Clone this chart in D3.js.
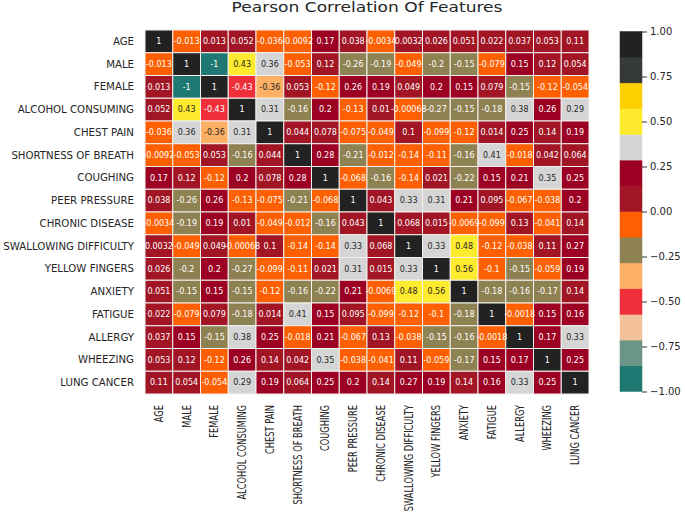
<!DOCTYPE html>
<html>
<head>
<meta charset="utf-8">
<script src="https://cdn.jsdelivr.net/npm/d3@7"></script>
<style>
  body { margin: 0; background: #fff; }
  text { font-family: "DejaVu Sans", sans-serif; fill: #262626; }
</style>
</head>
<body>
<div id="chart"></div>
<script>
// data
const features = ["AGE", "MALE", "FEMALE", "ALCOHOL CONSUMING", "CHEST PAIN",
  "SHORTNESS OF BREATH", "COUGHING", "PEER PRESSURE", "CHRONIC DISEASE",
  "SWALLOWING DIFFICULTY", "YELLOW FINGERS", "ANXIETY", "FATIGUE", "ALLERGY",
  "WHEEZING", "LUNG CANCER"];

const corr = [
  [1, -0.013, 0.013, 0.052, -0.036, -0.0092, 0.17, 0.038, -0.0034, 0.0032, 0.026, 0.051, 0.022, 0.037, 0.053, 0.11],
  [-0.013, 1, -1, 0.43, 0.36, -0.053, 0.12, -0.26, -0.19, -0.049, -0.2, -0.15, -0.079, 0.15, 0.12, 0.054],
  [0.013, -1, 1, -0.43, -0.36, 0.053, -0.12, 0.26, 0.19, 0.049, 0.2, 0.15, 0.079, -0.15, -0.12, -0.054],
  [0.052, 0.43, -0.43, 1, 0.31, -0.16, 0.2, -0.13, 0.01, -0.00068, -0.27, -0.15, -0.18, 0.38, 0.26, 0.29],
  [-0.036, 0.36, -0.36, 0.31, 1, 0.044, 0.078, -0.075, -0.049, 0.1, -0.099, -0.12, 0.014, 0.25, 0.14, 0.19],
  [-0.0092, -0.053, 0.053, -0.16, 0.044, 1, 0.28, -0.21, -0.012, -0.14, -0.11, -0.16, 0.41, -0.018, 0.042, 0.064],
  [0.17, 0.12, -0.12, 0.2, 0.078, 0.28, 1, -0.068, -0.16, -0.14, 0.021, -0.22, 0.15, 0.21, 0.35, 0.25],
  [0.038, -0.26, 0.26, -0.13, -0.075, -0.21, -0.068, 1, 0.043, 0.33, 0.31, 0.21, 0.095, -0.067, -0.038, 0.2],
  [-0.0034, -0.19, 0.19, 0.01, -0.049, -0.012, -0.16, 0.043, 1, 0.068, 0.015, -0.0069, -0.099, 0.13, -0.041, 0.14],
  [0.0032, -0.049, 0.049, -0.00068, 0.1, -0.14, -0.14, 0.33, 0.068, 1, 0.33, 0.48, -0.12, -0.038, 0.11, 0.27],
  [0.026, -0.2, 0.2, -0.27, -0.099, -0.11, 0.021, 0.31, 0.015, 0.33, 1, 0.56, -0.1, -0.15, -0.059, 0.19],
  [0.051, -0.15, 0.15, -0.15, -0.12, -0.16, -0.22, 0.21, -0.0069, 0.48, 0.56, 1, -0.18, -0.16, -0.17, 0.14],
  [0.022, -0.079, 0.079, -0.18, 0.014, 0.41, 0.15, 0.095, -0.099, -0.12, -0.1, -0.18, 1, -0.0018, 0.15, 0.16],
  [0.037, 0.15, -0.15, 0.38, 0.25, -0.018, 0.21, -0.067, 0.13, -0.038, -0.15, -0.16, -0.0018, 1, 0.17, 0.33],
  [0.053, 0.12, -0.12, 0.26, 0.14, 0.042, 0.35, -0.038, -0.041, 0.11, -0.059, -0.17, 0.15, 0.17, 1, 0.25],
  [0.11, 0.054, -0.054, 0.29, 0.19, 0.064, 0.25, 0.2, 0.14, 0.27, 0.19, 0.14, 0.16, 0.33, 0.25, 1]
];

// listed colormap, from -1 up to 1
const palette = ["#1f7872", "#6a9588", "#f4c29a", "#ef2f3a", "#feb164", "#8e8152", "#fe5f00",
  "#a11525", "#9c0022", "#d5d5d5", "#ffeb2d", "#ffd000", "#353a36", "#222222"];

const cbarTicks = [-1, -0.75, -0.5, -0.25, 0, 0.25, 0.5, 0.75, 1];

// setup
const width = 685, height = 515;
const svg = d3.select("#chart").append("svg")
  .attr("width", width)
  .attr("height", height);

const x = d3.scaleBand().domain(features).range([145, 589]);
const y = d3.scaleBand().domain(features).range([30, 394]);
const color = d3.scaleQuantize().domain([-1, 1]).range(palette);

function lum(c) {
  const r = d3.rgb(c);
  const f = v => { v /= 255; return v <= 0.03928 ? v / 12.92 : Math.pow((v + 0.055) / 1.055, 2.4); };
  return 0.2126 * f(r.r) + 0.7152 * f(r.g) + 0.0722 * f(r.b);
}

const cells = [];
corr.forEach((row, i) => row.forEach((v, j) => cells.push({ r: features[i], c: features[j], v: v })));

// like python's {:.2g}, plain hyphen
const fmt = v => d3.format(".2~g")(v).replace("−", "-");

// cells
svg.append("g").selectAll("rect")
  .data(cells)
  .enter().append("rect")
  .attr("x", d => x(d.c))
  .attr("y", d => y(d.r))
  .attr("width", x.bandwidth())
  .attr("height", y.bandwidth())
  .attr("fill", d => color(d.v))
  .attr("stroke", "#f4f2f0")
  .attr("stroke-width", 1);

svg.append("g").selectAll("text")
  .data(cells)
  .enter().append("text")
  .attr("x", d => x(d.c) + x.bandwidth() / 2)
  .attr("y", d => y(d.r) + y.bandwidth() / 2)
  .attr("dy", "0.35em")
  .attr("text-anchor", "middle")
  .style("font-size", "8px")
  .style("fill", d => lum(color(d.v)) > 0.408 ? "#262626" : "#ffffff")
  .text(d => fmt(d.v));

// y labels
svg.append("g").selectAll("text")
  .data(features)
  .enter().append("text")
  .attr("x", 134)
  .attr("y", d => y(d) + y.bandwidth() / 2)
  .attr("dy", "0.35em")
  .attr("text-anchor", "end")
  .style("font-size", "10.2px")
  .text(d => d);

// x labels (rotated, narrow)
svg.append("g").selectAll("text")
  .data(features)
  .enter().append("text")
  .attr("transform", d => `translate(${x(d) + x.bandwidth() / 2},405) rotate(-90) scale(0.72,1)`)
  .attr("dy", "0.35em")
  .attr("text-anchor", "end")
  .style("font-size", "11.5px")
  .text(d => d);

// title
svg.append("text")
  .attr("x", 367)
  .attr("y", 12)
  .attr("text-anchor", "middle")
  .attr("textLength", 271)
  .attr("lengthAdjust", "spacingAndGlyphs")
  .style("font-size", "14px")
  .text("Pearson Correlation Of Features");

// colorbar
const cy = d3.scaleLinear().domain([-1, 1]).range([391.5, 31.5]);
svg.append("g").selectAll("rect")
  .data(palette)
  .enter().append("rect")
  .attr("x", 620)
  .attr("width", 22)
  .attr("y", d => cy(color.invertExtent(d)[1]))
  .attr("height", d => cy(color.invertExtent(d)[0]) - cy(color.invertExtent(d)[1]))
  .attr("fill", d => d)
  .attr("stroke", d => d)
  .attr("stroke-width", 0.5);

const cbarAxis = svg.append("g")
  .attr("transform", "translate(642,0)")
  .call(d3.axisRight(cy).tickValues(cbarTicks).tickFormat(d3.format(".2f")).tickSize(5).tickPadding(3));
cbarAxis.select(".domain").remove();
cbarAxis.selectAll("line").attr("stroke", "#333");
cbarAxis.selectAll("text")
  .style("font-family", "'DejaVu Sans', sans-serif")
  .style("font-size", "10px")
  .style("fill", "#262626");
</script>
</body>
</html>
